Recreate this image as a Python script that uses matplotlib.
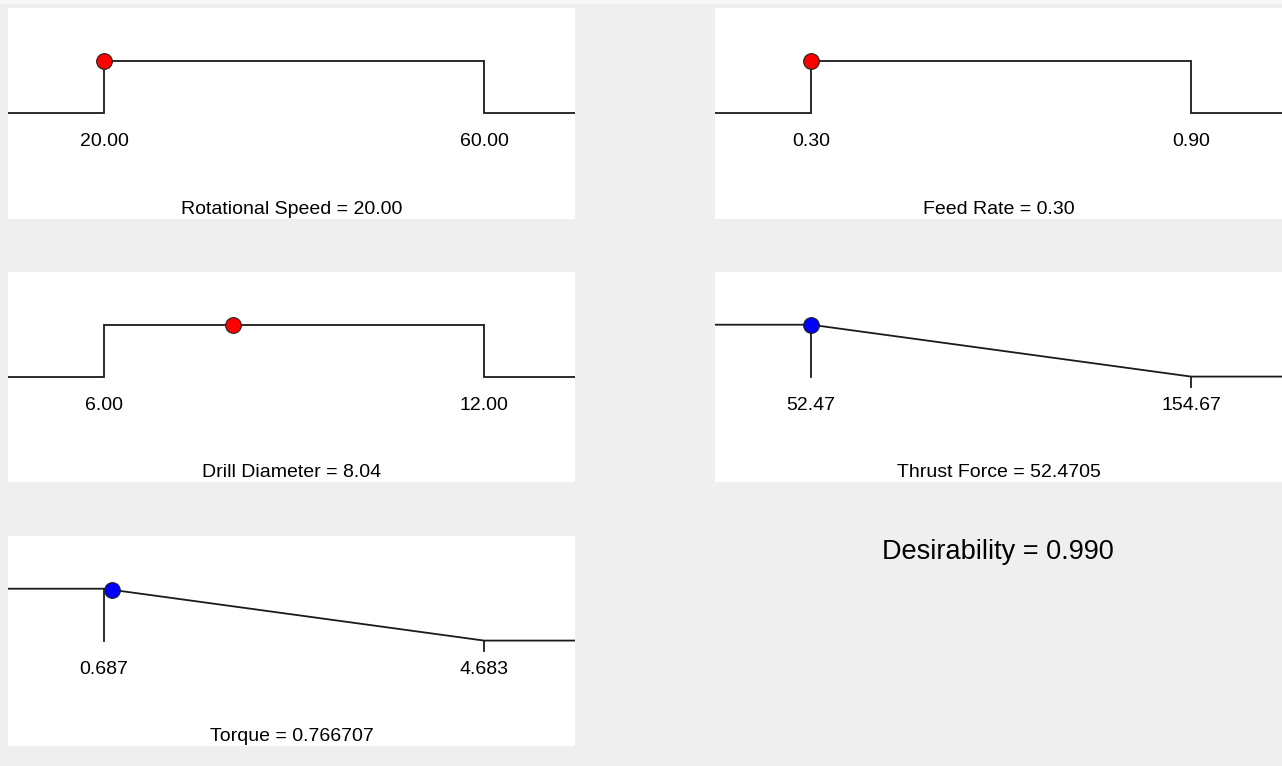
'''
Desirability ramps for the optimum found (Design-Expert style)
'''
import matplotlib
matplotlib.use('Agg')
import matplotlib.pyplot as plt
import matplotlib.transforms as mtransforms

plt.rcParams['font.family'] = ['Liberation Sans', 'DejaVu Sans']

# data
names = ['Rotational Speed', 'Feed Rate', 'Drill Diameter', 'Thrust Force', 'Torque']
kinds = ['factor', 'factor', 'factor', 'minimize', 'minimize']
lows = [20.00, 0.30, 6.00, 52.47, 0.687]
highs = [60.00, 0.90, 12.00, 154.67, 4.683]
low_labels = ['20.00', '0.30', '6.00', '52.47', '0.687']
high_labels = ['60.00', '0.90', '12.00', '154.67', '4.683']
values = [20.00, 0.30, 8.04, 52.4705, 0.766707]
value_labels = ['20.00', '0.30', '8.04', '52.4705', '0.766707']
desirability = 0.990

W, H = 1282, 766
BG = '#efefef'
LINE = '#1a1a1a'

# panel boxes in pixels: left, top, right, bottom
boxes = [(8, 8, 575, 219), (715, 8, 1282, 219),
         (8, 272, 575, 482), (715, 272, 1282, 482),
         (8, 536, 575, 746)]

LOW_FR, HIGH_FR = 0.1693, 0.8395   # where low / high sit across the panel
Y0_FR, Y1_FR = 0.502, 0.749         # where d=0 / d=1 sit up the panel


def add_panel(fig, box):
    l, t, r, b = box
    ax = fig.add_axes([l / W, 1 - b / H, (r - l) / W, (b - t) / H])
    ax.set_facecolor('white')
    for s in ax.spines.values():
        s.set_visible(False)
    ax.set_xticks([]); ax.set_yticks([])
    return ax


def set_limits(ax, lo, hi):
    span = (hi - lo) / (HIGH_FR - LOW_FR)
    xmin = lo - LOW_FR * span
    ax.set_xlim(xmin, xmin + span)
    unit = Y1_FR - Y0_FR
    ax.set_ylim(-Y0_FR / unit, (1 - Y0_FR) / unit)
    return xmin, xmin + span


def draw_panel(ax, i):
    lo, hi, v = lows[i], highs[i], values[i]
    xmin, xmax = set_limits(ax, lo, hi)
    kw = dict(color=LINE, lw=1.3, solid_joinstyle='miter', zorder=2)
    if kinds[i] == 'factor':
        ax.plot([xmin, lo, lo, hi, hi, xmax], [0, 0, 1, 1, 0, 0], **kw)
        d = 1.0
        mcolor = '#ff0000'
    else:
        ax.plot([xmin, lo, hi, xmax], [1, 1, 0, 0], **kw)
        ax.plot([lo, lo], [1, 0], **kw)
        ax.plot([hi, hi], [0, -0.21], **kw)
        d = (hi - v) / (hi - lo)
        mcolor = '#0000ff'
    ax.plot([v], [d], 'o', ms=11.3, mfc=mcolor, mec='#222222', mew=0.8, zorder=3)

    trans = mtransforms.blended_transform_factory(ax.transData, ax.transAxes)
    ax.text(lo, 0.365, low_labels[i], transform=trans, ha='center', va='center', fontsize=14)
    ax.text(hi, 0.365, high_labels[i], transform=trans, ha='center', va='center', fontsize=14)
    ax.text(0.5, 0.043, f'{names[i]} = {value_labels[i]}', transform=ax.transAxes,
            ha='center', va='center', fontsize=14)


def main():
    fig = plt.figure(figsize=(W / 100, H / 100), dpi=100, facecolor=BG)
    fig.patches.append(plt.Rectangle((0, 1 - 4 / H), 1, 4 / H, transform=fig.transFigure,
                                     facecolor='#f7f7f7', edgecolor='none'))
    for i, box in enumerate(boxes):
        ax = add_panel(fig, box)
        draw_panel(ax, i)
    fig.text(998 / W, 1 - 552 / H, f'Desirability = {desirability:.3f}',
             ha='center', va='center', fontsize=19.5)
    fig.savefig('out.png', dpi=100, facecolor=BG)


if __name__ == "__main__":
    main()
